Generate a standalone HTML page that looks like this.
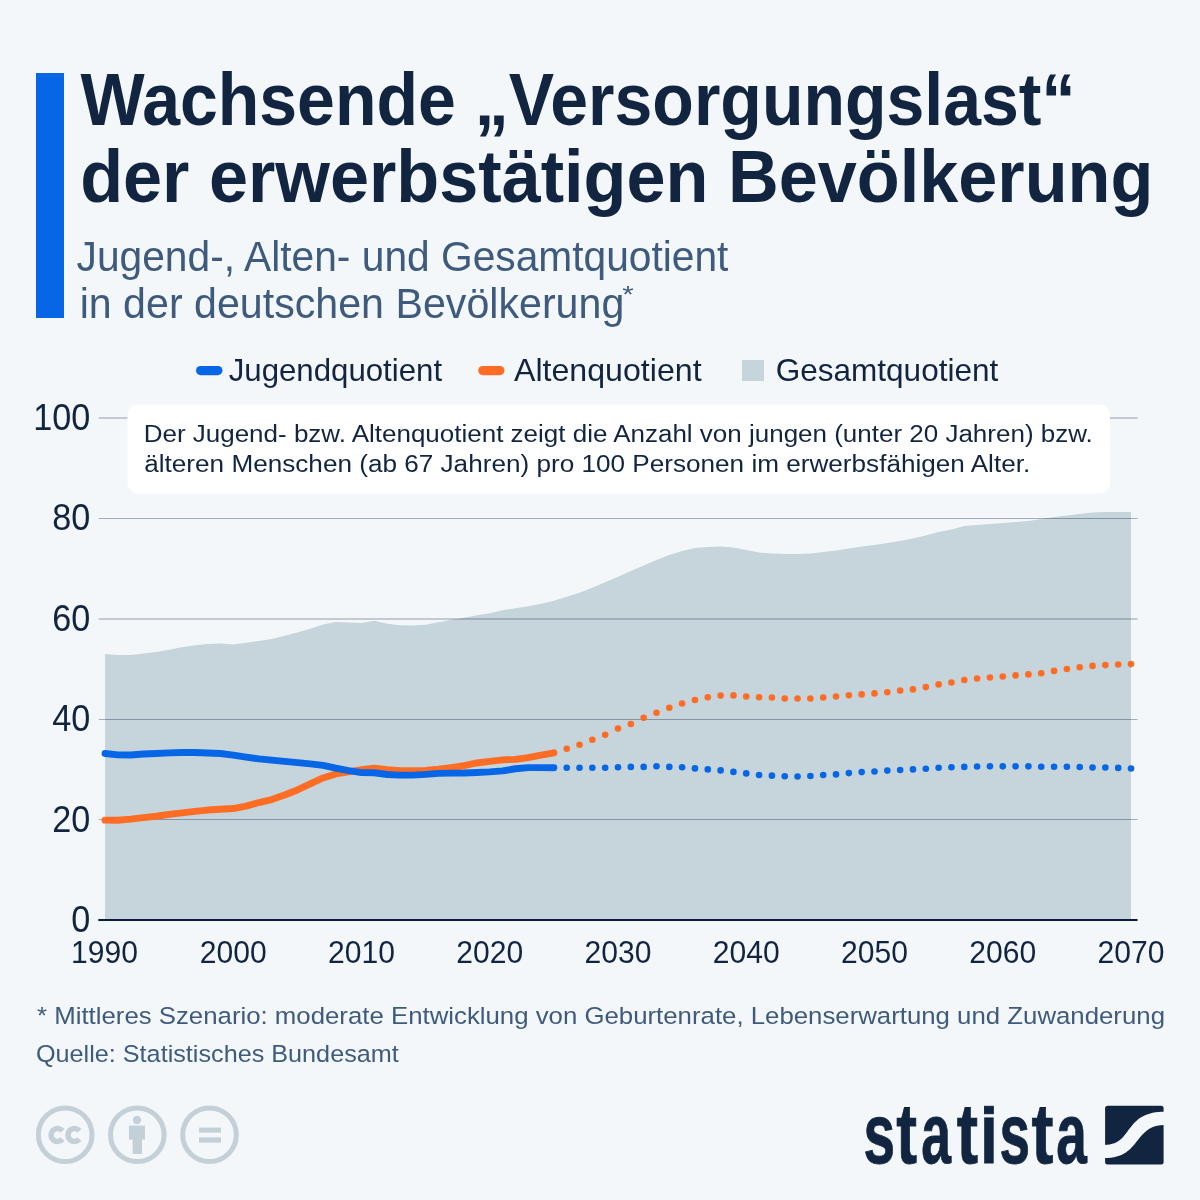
<!DOCTYPE html>
<html><head><meta charset="utf-8"><style>
html,body{margin:0;padding:0;background:#f4f7fa;overflow:hidden;width:1200px;height:1200px;}
svg{display:block;font-family:"Liberation Sans",sans-serif;}
</style></head><body>
<svg width="1200" height="1200" viewBox="0 0 1200 1200">
<rect width="1200" height="1200" fill="#f4f7fa"/>
<rect x="36" y="73" width="28" height="245" fill="#0766e5"/>
<text x="80.50" y="124.5" font-weight="700" font-size="74" fill="#112541" textLength="994.93" lengthAdjust="spacingAndGlyphs">Wachsende „Versorgungslast“</text>
<text x="80.15" y="202" font-weight="700" font-size="74" fill="#112541" textLength="1073.19" lengthAdjust="spacingAndGlyphs">der erwerbstätigen Bevölkerung</text>
<text x="76.55" y="270.5" font-weight="400" font-size="43" fill="#3e5b7e" textLength="651.88" lengthAdjust="spacingAndGlyphs">Jugend-, Alten- und Gesamtquotient</text>
<text x="79.63" y="317.7" font-weight="400" font-size="43" fill="#3e5b7e" textLength="544.68" lengthAdjust="spacingAndGlyphs">in der deutschen Bevölkerung</text>
<text x="622.20" y="302.5" font-weight="400" font-size="24" fill="#3e5b7e" textLength="11.42" lengthAdjust="spacingAndGlyphs">*</text>
<rect x="196" y="366" width="26.5" height="9.2" rx="4.6" fill="#0766e5"/>
<text x="228.68" y="380.9" font-weight="400" font-size="30.5" fill="#112541" textLength="213.42" lengthAdjust="spacingAndGlyphs">Jugendquotient</text>
<rect x="478.2" y="366" width="26.3" height="9.2" rx="4.6" fill="#ff6c23"/>
<text x="514.00" y="380.9" font-weight="400" font-size="30.5" fill="#112541" textLength="187.57" lengthAdjust="spacingAndGlyphs">Altenquotient</text>
<rect x="742" y="360" width="22" height="21" fill="#c6d4dc"/>
<text x="775.67" y="380.9" font-weight="400" font-size="30.5" fill="#112541" textLength="222.67" lengthAdjust="spacingAndGlyphs">Gesamtquotient</text>
<path d="M105.00,920 L105.00,653.94 117.83,654.95 130.65,654.95 143.47,653.44 156.30,651.93 169.12,649.67 181.95,647.16 194.77,645.16 207.60,643.90 220.43,643.40 233.25,644.40 246.07,642.65 258.90,640.89 271.73,638.88 284.55,635.87 297.38,632.61 310.20,628.84 323.02,624.58 335.85,622.07 348.67,622.57 361.50,623.07 374.32,620.81 387.15,623.82 399.97,625.33 412.80,625.58 425.62,624.83 438.45,622.32 451.27,619.81 464.10,617.80 476.92,615.29 489.75,613.28 502.57,610.27 515.40,608.26 528.22,606.25 541.05,603.74 553.88,600.73 566.70,596.71 579.52,592.70 592.35,587.68 605.17,582.16 618.00,576.63 630.82,571.11 643.65,565.59 656.48,560.07 669.30,555.05 682.12,551.03 694.95,548.02 707.77,547.02 720.60,546.51 733.42,547.52 746.25,550.03 759.07,552.54 771.90,553.54 784.72,554.04 797.55,554.04 810.38,553.54 823.20,552.04 836.02,550.53 848.85,548.52 861.67,546.51 874.50,545.01 887.32,543.00 900.15,540.99 912.97,538.48 925.80,535.47 938.62,531.96 951.45,529.45 964.27,525.93 977.10,524.93 989.92,523.92 1002.75,522.92 1015.57,521.92 1028.40,520.91 1041.22,518.90 1054.05,516.90 1066.88,515.39 1079.70,513.88 1092.53,512.38 1105.35,511.88 1118.17,511.88 1131.00,511.88 L1131.00,920 Z" fill="#c6d4dc"/>
<g fill="#abb3c0" style="mix-blend-mode:multiply"><rect x="98.8" y="417.4" width="1038.7" height="1.2"/><rect x="98.8" y="518" width="1038.7" height="1"/><rect x="98.8" y="618.4" width="1038.7" height="1.2"/><rect x="98.8" y="719" width="1038.7" height="1"/><rect x="98.8" y="819" width="1038.7" height="1"/></g>
<rect x="98.3" y="919" width="1039.2" height="2" fill="#0b1c38"/>
<rect x="127.5" y="404.5" width="982.5" height="89" rx="11" fill="#ffffff"/>
<text x="143.69" y="441.7" font-weight="400" font-size="24.7" fill="#112541" textLength="949.06" lengthAdjust="spacingAndGlyphs">Der Jugend- bzw. Altenquotient zeigt die Anzahl von jungen (unter 20 Jahren) bzw.</text>
<text x="144.24" y="471.7" font-weight="400" font-size="24.7" fill="#112541" textLength="886.01" lengthAdjust="spacingAndGlyphs">älteren Menschen (ab 67 Jahren) pro 100 Personen im erwerbsfähigen Alter.</text>
<path d="M105.00,820.10 L117.83,820.25 L130.65,819.10 L143.47,817.59 L156.30,816.24 L169.12,814.33 L181.95,812.83 L194.77,811.32 L207.60,810.06 L220.43,809.31 L233.25,808.56 L246.07,806.05 L258.90,802.53 L271.73,799.52 L284.55,795.00 L297.38,789.98 L310.20,783.96 L323.02,777.94 L335.85,773.92 L348.67,771.91 L361.50,769.75 L374.32,768.25 L387.15,769.75 L399.97,770.76 L412.80,770.76 L425.62,770.51 L438.45,769.25 L451.27,767.59 L464.10,765.74 L476.92,762.98 L489.75,761.42 L502.57,759.86 L515.40,759.36 L528.22,757.66 L541.05,755.04 L553.88,752.84" fill="none" stroke="#ff6c23" stroke-width="6.9" stroke-linecap="round" stroke-linejoin="round"/>
<g fill="#ff6c23"><circle cx="566.70" cy="748.82" r="3.3"/><circle cx="579.52" cy="744.80" r="3.3"/><circle cx="592.35" cy="739.78" r="3.3"/><circle cx="605.17" cy="734.76" r="3.3"/><circle cx="618.00" cy="728.49" r="3.3"/><circle cx="630.82" cy="724.02" r="3.3"/><circle cx="643.65" cy="717.75" r="3.3"/><circle cx="656.48" cy="712.78" r="3.3"/><circle cx="669.30" cy="707.76" r="3.3"/><circle cx="682.12" cy="703.49" r="3.3"/><circle cx="694.95" cy="699.98" r="3.3"/><circle cx="707.77" cy="697.26" r="3.3"/><circle cx="720.60" cy="695.61" r="3.3"/><circle cx="733.42" cy="695.41" r="3.3"/><circle cx="746.25" cy="696.51" r="3.3"/><circle cx="759.07" cy="697.26" r="3.3"/><circle cx="771.90" cy="697.52" r="3.3"/><circle cx="784.72" cy="698.52" r="3.3"/><circle cx="797.55" cy="698.52" r="3.3"/><circle cx="810.38" cy="698.52" r="3.3"/><circle cx="823.20" cy="697.52" r="3.3"/><circle cx="836.02" cy="696.51" r="3.3"/><circle cx="848.85" cy="695.26" r="3.3"/><circle cx="861.67" cy="694.40" r="3.3"/><circle cx="874.50" cy="693.40" r="3.3"/><circle cx="887.32" cy="692.24" r="3.3"/><circle cx="900.15" cy="690.59" r="3.3"/><circle cx="912.97" cy="689.38" r="3.3"/><circle cx="925.80" cy="687.12" r="3.3"/><circle cx="938.62" cy="684.41" r="3.3"/><circle cx="951.45" cy="682.51" r="3.3"/><circle cx="964.27" cy="680.00" r="3.3"/><circle cx="977.10" cy="678.49" r="3.3"/><circle cx="989.92" cy="677.49" r="3.3"/><circle cx="1002.75" cy="676.53" r="3.3"/><circle cx="1015.57" cy="675.38" r="3.3"/><circle cx="1028.40" cy="674.42" r="3.3"/><circle cx="1041.22" cy="673.27" r="3.3"/><circle cx="1054.05" cy="670.91" r="3.3"/><circle cx="1066.88" cy="669.00" r="3.3"/><circle cx="1079.70" cy="667.30" r="3.3"/><circle cx="1092.53" cy="665.89" r="3.3"/><circle cx="1105.35" cy="665.09" r="3.3"/><circle cx="1118.17" cy="664.48" r="3.3"/><circle cx="1131.00" cy="664.08" r="3.3"/></g>
<path d="M105.00,753.49 L117.83,754.84 L130.65,754.99 L143.47,753.99 L156.30,753.49 L169.12,752.84 L181.95,752.48 L194.77,752.48 L207.60,752.99 L220.43,753.49 L233.25,755.10 L246.07,757.10 L258.90,758.86 L271.73,760.12 L284.55,761.37 L297.38,762.62 L310.20,763.88 L323.02,765.39 L335.85,768.15 L348.67,770.61 L361.50,772.61 L374.32,772.77 L387.15,774.52 L399.97,775.12 L412.80,775.12 L425.62,774.42 L438.45,773.42 L451.27,773.12 L464.10,773.02 L476.92,772.51 L489.75,771.91 L502.57,770.91 L515.40,768.75 L528.22,767.59 L541.05,767.59 L553.88,767.75" fill="none" stroke="#0766e5" stroke-width="6.9" stroke-linecap="round" stroke-linejoin="round"/>
<g fill="#0766e5"><circle cx="566.70" cy="767.75" r="3.3"/><circle cx="579.52" cy="767.75" r="3.3"/><circle cx="592.35" cy="767.75" r="3.3"/><circle cx="605.17" cy="767.75" r="3.3"/><circle cx="618.00" cy="767.24" r="3.3"/><circle cx="630.82" cy="766.89" r="3.3"/><circle cx="643.65" cy="766.89" r="3.3"/><circle cx="656.48" cy="766.24" r="3.3"/><circle cx="669.30" cy="766.89" r="3.3"/><circle cx="682.12" cy="767.24" r="3.3"/><circle cx="694.95" cy="768.40" r="3.3"/><circle cx="707.77" cy="769.40" r="3.3"/><circle cx="720.60" cy="770.41" r="3.3"/><circle cx="733.42" cy="771.91" r="3.3"/><circle cx="746.25" cy="773.42" r="3.3"/><circle cx="759.07" cy="775.02" r="3.3"/><circle cx="771.90" cy="775.63" r="3.3"/><circle cx="784.72" cy="776.23" r="3.3"/><circle cx="797.55" cy="776.48" r="3.3"/><circle cx="810.38" cy="775.98" r="3.3"/><circle cx="823.20" cy="775.02" r="3.3"/><circle cx="836.02" cy="774.42" r="3.3"/><circle cx="848.85" cy="773.12" r="3.3"/><circle cx="861.67" cy="772.11" r="3.3"/><circle cx="874.50" cy="771.51" r="3.3"/><circle cx="887.32" cy="770.61" r="3.3"/><circle cx="900.15" cy="770.00" r="3.3"/><circle cx="912.97" cy="769.40" r="3.3"/><circle cx="925.80" cy="768.75" r="3.3"/><circle cx="938.62" cy="767.75" r="3.3"/><circle cx="951.45" cy="767.24" r="3.3"/><circle cx="964.27" cy="766.89" r="3.3"/><circle cx="977.10" cy="766.49" r="3.3"/><circle cx="989.92" cy="766.34" r="3.3"/><circle cx="1002.75" cy="766.34" r="3.3"/><circle cx="1015.57" cy="766.34" r="3.3"/><circle cx="1028.40" cy="766.34" r="3.3"/><circle cx="1041.22" cy="766.79" r="3.3"/><circle cx="1054.05" cy="766.79" r="3.3"/><circle cx="1066.88" cy="766.79" r="3.3"/><circle cx="1079.70" cy="767.04" r="3.3"/><circle cx="1092.53" cy="767.49" r="3.3"/><circle cx="1105.35" cy="767.49" r="3.3"/><circle cx="1118.17" cy="767.90" r="3.3"/><circle cx="1131.00" cy="768.50" r="3.3"/></g>
<text x="33.15" y="430.00" font-size="36" fill="#112541" textLength="57.07" lengthAdjust="spacingAndGlyphs">100</text><text x="52.15" y="530.20" font-size="36" fill="#112541" textLength="38.04" lengthAdjust="spacingAndGlyphs">80</text><text x="52.15" y="631.40" font-size="36" fill="#112541" textLength="38.04" lengthAdjust="spacingAndGlyphs">60</text><text x="52.15" y="731.40" font-size="36" fill="#112541" textLength="38.04" lengthAdjust="spacingAndGlyphs">40</text><text x="52.15" y="831.50" font-size="36" fill="#112541" textLength="38.04" lengthAdjust="spacingAndGlyphs">20</text><text x="71.15" y="932.30" font-size="36" fill="#112541" textLength="19.03" lengthAdjust="spacingAndGlyphs">0</text>
<text x="71.05" y="962.5" font-size="31" fill="#112541" textLength="66.90" lengthAdjust="spacingAndGlyphs">1990</text><text x="199.78" y="962.5" font-size="31" fill="#112541" textLength="66.90" lengthAdjust="spacingAndGlyphs">2000</text><text x="328.04" y="962.5" font-size="31" fill="#112541" textLength="66.90" lengthAdjust="spacingAndGlyphs">2010</text><text x="456.29" y="962.5" font-size="31" fill="#112541" textLength="66.90" lengthAdjust="spacingAndGlyphs">2020</text><text x="584.53" y="962.5" font-size="31" fill="#112541" textLength="66.90" lengthAdjust="spacingAndGlyphs">2030</text><text x="712.78" y="962.5" font-size="31" fill="#112541" textLength="66.90" lengthAdjust="spacingAndGlyphs">2040</text><text x="841.03" y="962.5" font-size="31" fill="#112541" textLength="66.90" lengthAdjust="spacingAndGlyphs">2050</text><text x="969.28" y="962.5" font-size="31" fill="#112541" textLength="66.90" lengthAdjust="spacingAndGlyphs">2060</text><text x="1097.54" y="962.5" font-size="31" fill="#112541" textLength="66.90" lengthAdjust="spacingAndGlyphs">2070</text>
<text x="37.00" y="1023.75" font-weight="400" font-size="24.3" fill="#3e5b7e" textLength="1127.98" lengthAdjust="spacingAndGlyphs">* Mittleres Szenario: moderate Entwicklung von Geburtenrate, Lebenserwartung und Zuwanderung</text>
<text x="35.96" y="1061.8" font-weight="400" font-size="24.3" fill="#3e5b7e" textLength="362.81" lengthAdjust="spacingAndGlyphs">Quelle: Statistisches Bundesamt</text>
<g fill="none" stroke="#c4d0d8" stroke-width="5">
<circle cx="65.2" cy="1134.8" r="26.8"/>
<circle cx="137.3" cy="1134.8" r="26.8"/>
<circle cx="209.5" cy="1134.8" r="26.8"/>
</g>
<g fill="#c4d0d8">
<path d="M62.44,1130.85 A6.45,6.45 0 1 0 62.44,1139.15 M79.34,1130.85 A6.45,6.45 0 1 0 79.34,1139.15" fill="none" stroke="#c4d0d8" stroke-width="5.6"/>
<circle cx="137" cy="1120" r="4.2"/>
<rect x="129" y="1125.6" width="16" height="14"/>
<rect x="132.6" y="1135" width="9.4" height="19"/>
<rect x="199" y="1127.6" width="22" height="5"/>
<rect x="199" y="1137.4" width="22" height="5.2"/>
</g>
<g font-weight="700" font-size="86" fill="#112541" stroke="#112541" stroke-width="0.9"><text x="863.47" y="1163.0" textLength="31.62" lengthAdjust="spacingAndGlyphs">s</text><text x="896.22" y="1163.0" textLength="20.79" lengthAdjust="spacingAndGlyphs">t</text><text x="921.21" y="1163.0" textLength="29.75" lengthAdjust="spacingAndGlyphs">a</text><text x="956.71" y="1163.0" textLength="21.32" lengthAdjust="spacingAndGlyphs">t</text><text x="980.00" y="1163.0" textLength="17.73" lengthAdjust="spacingAndGlyphs">ı</text><text x="999.43" y="1163.0" textLength="30.57" lengthAdjust="spacingAndGlyphs">s</text><text x="1031.48" y="1163.0" textLength="21.96" lengthAdjust="spacingAndGlyphs">t</text><text x="1056.37" y="1163.0" textLength="30.58" lengthAdjust="spacingAndGlyphs">a</text><rect x="984.45" y="1106.25" width="8.9" height="7.5" fill="#112541"/></g>
<g transform="translate(1105.1,1105.8)">
<rect width="58.5" height="58.7" rx="2.5" fill="#112541"/>
<path d="M-1,39.1 C16,39.1 19,29 26,21 C33,12 41,5.9 60,5.9 L60,19.2 C46,19.2 40,25 33,34 C25,44 19,52.3 -1,52.3 Z" fill="#f4f7fa"/>
</g>
</svg>
</body></html>
